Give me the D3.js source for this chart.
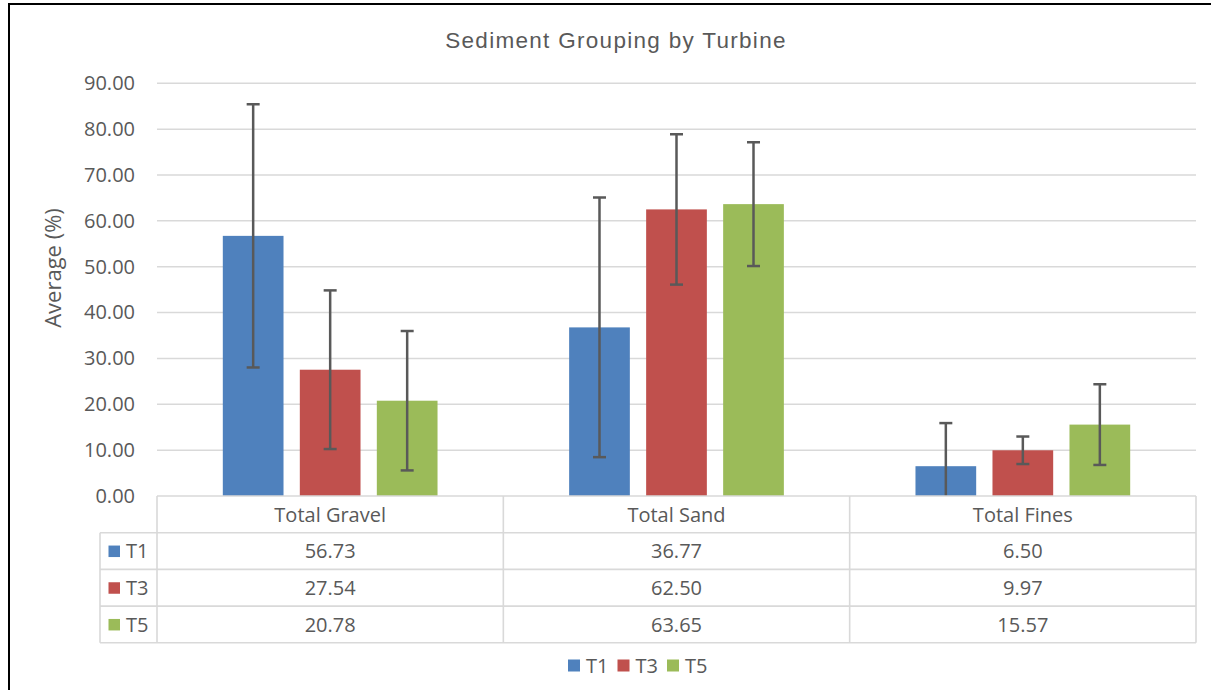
<!DOCTYPE html>
<html>
<head>
<meta charset="utf-8">
<script src="https://cdn.jsdelivr.net/npm/d3@7"></script>
<style>
  html, body { margin: 0; padding: 0; background: #fff; }
  svg { display: block; }
</style>
</head>
<body>
<svg id="chart" width="1211" height="690"></svg>
<script>
// ---- Data ----
const categories = ["Total Gravel", "Total Sand", "Total Fines"];
const seriesNames = ["T1", "T3", "T5"];
const t1Values = [56.73, 36.77, 6.50];
const t3Values = [27.54, 62.50, 9.97];
const t5Values = [20.78, 63.65, 15.57];
const t1Errors = [28.7, 28.3, 9.4];
const t3Errors = [17.3, 16.4, 3.0];
const t5Errors = [15.2, 13.5, 8.8];
const yTicks = [0, 10, 20, 30, 40, 50, 60, 70, 80, 90];
const seriesColors = ["#4F81BD", "#C0504D", "#9BBB59"];
const chartTitle = "Sediment Grouping by Turbine";
const yAxisTitle = "Average (%)";

const seriesValues = [t1Values, t3Values, t5Values];
const seriesErrors = [t1Errors, t3Errors, t5Errors];

// ---- Layout ----
const plotLeft = 157, plotRight = 1196, plotTop = 83.3, plotBottom = 496;
const rowH = 36.7;
const legendColLeft = 100;
const textColor = "#595959";
const gridColor = "#d9d9d9";
const labelFont = "'Open Sans', sans-serif";

const svg = d3.select("#chart");

// outer frame (left and top edges visible)
svg.append("rect")
  .attr("x", 9).attr("y", 4)
  .attr("width", 1300).attr("height", 800)
  .attr("fill", "none").attr("stroke", "#000").attr("stroke-width", 2);

const x = d3.scaleBand().domain(categories).range([plotLeft, plotRight]).paddingInner(0).paddingOuter(0);
const xInner = d3.scaleBand().domain(seriesNames).range([0, x.bandwidth()])
  .paddingInner(0.2117).paddingOuter(0.8546);
const y = d3.scaleLinear().domain([0, 90]).range([plotBottom, plotTop]);

// gridlines
svg.append("g").selectAll("line").data(yTicks.filter(t => t > 0)).join("line")
  .attr("x1", plotLeft).attr("x2", plotRight)
  .attr("y1", d => y(d)).attr("y2", d => y(d))
  .attr("stroke", gridColor).attr("stroke-width", 1.5);

// y axis labels
const yAxis = d3.axisLeft(y).tickValues(yTicks).tickFormat(d3.format(".2f")).tickSize(0).tickPadding(22);
const yAxisG = svg.append("g").attr("transform", `translate(${plotLeft},0)`).call(yAxis);
yAxisG.select(".domain").remove();
yAxisG.selectAll("text")
  .attr("fill", textColor)
  .style("font-family", labelFont)
  .style("font-size", "20px");

// title
svg.append("text")
  .attr("x", 616).attr("y", 48)
  .attr("text-anchor", "middle")
  .attr("fill", textColor)
  .style("font-family", "'Liberation Sans', Arial, sans-serif")
  .style("font-size", "22.5px")
  .style("letter-spacing", "1.3px")
  .text(chartTitle);

// y axis title
svg.append("text")
  .attr("transform", "translate(61,268) rotate(-90)")
  .attr("text-anchor", "middle")
  .attr("fill", textColor)
  .style("font-family", labelFont)
  .style("font-size", "22px")
  .text(yAxisTitle);

// clip
svg.append("clipPath").attr("id", "plotClip")
  .append("rect").attr("x", plotLeft).attr("y", plotTop - 30)
  .attr("width", plotRight - plotLeft).attr("height", plotBottom - plotTop + 30);

// bars
const barsG = svg.append("g").attr("clip-path", "url(#plotClip)");
seriesNames.forEach((s, si) => {
  const g = barsG.append("g");
  g.selectAll("rect").data(categories).join("rect")
    .attr("x", (c) => x(c) + xInner(s))
    .attr("width", xInner.bandwidth())
    .attr("y", (c, i) => y(seriesValues[si][i]))
    .attr("height", (c, i) => plotBottom - y(seriesValues[si][i]))
    .attr("fill", seriesColors[si]);
});

// error bars
const errColor = "#595959";
const capHalf = 6.5;
seriesNames.forEach((s, si) => {
  const g = barsG.append("g");
  categories.forEach((c, i) => {
    const cx = x(c) + xInner(s) + xInner.bandwidth() / 2;
    const v = seriesValues[si][i], e = seriesErrors[si][i];
    const hi = v + e, lo = v - e;
    g.append("line").attr("x1", cx).attr("x2", cx)
      .attr("y1", y(hi)).attr("y2", y(Math.max(lo, -5)))
      .attr("stroke", errColor).attr("stroke-width", 2.5);
    g.append("line").attr("x1", cx - capHalf).attr("x2", cx + capHalf)
      .attr("y1", y(hi)).attr("y2", y(hi))
      .attr("stroke", errColor).attr("stroke-width", 2.5);
    if (lo >= 0) {
      g.append("line").attr("x1", cx - capHalf).attr("x2", cx + capHalf)
        .attr("y1", y(lo)).attr("y2", y(lo))
        .attr("stroke", errColor).attr("stroke-width", 2.5);
    }
  });
});

// data table
const tableG = svg.append("g");
const tableLine = (x1, y1, x2, y2) => tableG.append("line")
  .attr("x1", x1).attr("y1", y1).attr("x2", x2).attr("y2", y2)
  .attr("stroke", gridColor).attr("stroke-width", 1.6);

const rowsY = d3.range(5).map(i => plotBottom + i * rowH);
// horizontal lines
tableLine(plotLeft, rowsY[0], plotRight, rowsY[0]);
for (let r = 1; r < 5; r++) tableLine(legendColLeft, rowsY[r], plotRight, rowsY[r]);
// vertical lines
const colEdges = categories.map(c => x(c)).concat([plotRight]);
colEdges.forEach(cx => tableLine(cx, rowsY[0], cx, rowsY[4]));
tableLine(legendColLeft, rowsY[1], legendColLeft, rowsY[4]);

// header
tableG.selectAll("text.hdr").data(categories).join("text")
  .attr("class", "hdr")
  .attr("x", c => x(c) + x.bandwidth() / 2)
  .attr("y", rowsY[0] + rowH / 2)
  .attr("dy", "0.36em")
  .attr("text-anchor", "middle")
  .attr("fill", textColor)
  .style("font-family", labelFont).style("font-size", "20px")
  .text(c => c);

// rows
seriesNames.forEach((s, si) => {
  const cy = rowsY[si + 1] + rowH / 2;
  tableG.append("rect")
    .attr("x", 108.5).attr("y", cy - 5.5).attr("width", 11.5).attr("height", 11.5)
    .attr("fill", seriesColors[si]);
  tableG.append("text")
    .attr("x", 126).attr("y", cy).attr("dy", "0.36em")
    .attr("fill", textColor)
    .style("font-family", labelFont).style("font-size", "20px")
    .text(s);
  tableG.selectAll(null).data(categories).join("text")
    .attr("x", c => x(c) + x.bandwidth() / 2)
    .attr("y", cy).attr("dy", "0.36em")
    .attr("text-anchor", "middle")
    .attr("fill", textColor)
    .style("font-family", labelFont).style("font-size", "20px")
    .text((c, i) => d3.format(".2f")(seriesValues[si][i]));
});

// legend
const legendG = svg.append("g");
seriesNames.forEach((s, si) => {
  const lx = 568 + si * 49.5;
  legendG.append("rect")
    .attr("x", lx).attr("y", 659.5).attr("width", 12).attr("height", 12)
    .attr("fill", seriesColors[si]);
  legendG.append("text")
    .attr("x", lx + 18).attr("y", 665.5).attr("dy", "0.36em")
    .attr("fill", textColor)
    .style("font-family", labelFont).style("font-size", "20px")
    .text(s);
});
</script>
</body>
</html>
